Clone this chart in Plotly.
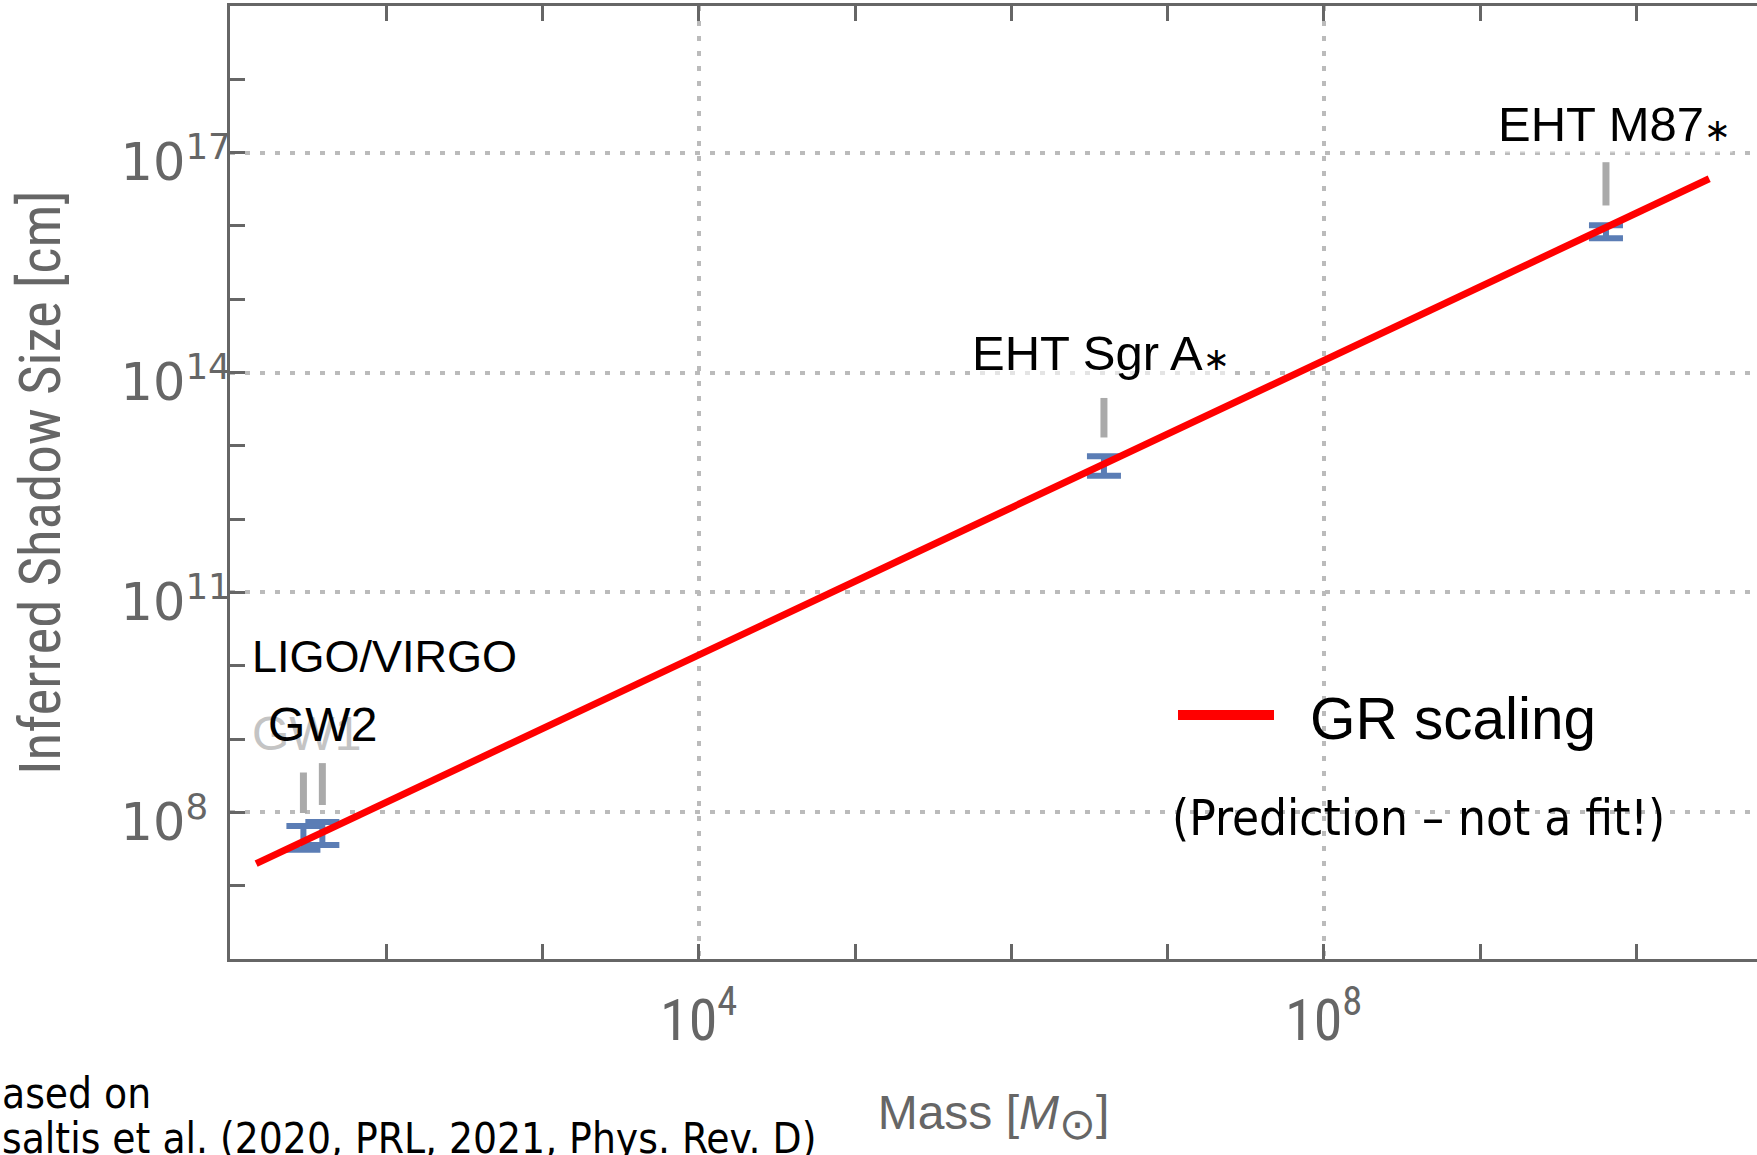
import plotly.graph_objects as go

# ---------------- data ----------------
src_names = ["GW1", "GW2", "EHT Sgr A∗", "EHT M87∗"]
src_mass = [29.5, 39.0, 3.92e6, 6.4e9]                 # solar masses
src_size = [4.5e7, 5.3e7, 5.3e12, 8.3e15]              # cm
src_err_plus = [2.0e7, 2.1e7, 1.9e12, 1.9e15]          # cm
src_err_minus = [1.4e7, 1.7e7, 1.4e12, 1.5e15]         # cm

# grey pointer bars above each measurement (bottom, top) in cm
ptr_bottom = [9.8e7, 1.26e8, 1.3e13, 1.9e16]
ptr_top = [3.5e8, 4.7e8, 4.5e13, 7.4e16]

# GR scaling prediction (end points of the line)
gr_mass = [14.7, 2.93e10]
gr_size = [2.0e7, 4.4e16]

x_tick_vals = [1e4, 1e8]
x_tick_text = ["10<sup>4</sup>", "10<sup>8</sup>"]
y_tick_vals = [1e8, 1e11, 1e14, 1e17]
y_tick_text = ["10<sup>8\u2007</sup>", "10<sup>11</sup>", "10<sup>14</sup>", "10<sup>17</sup>"]
x_minor = [10.0 ** k for k in range(1, 11)]
y_minor = [10.0 ** k for k in range(6, 20)]

# ---------------- layout geometry ----------------
W, H = 1757, 1155
L, R, T, B = 230, 0, 6, 196
PW, PH = W - L - R, H - T - B


def px(xp):
    return (xp - L) / PW


def py(yp):
    return (H - B - yp) / PH


AX = "#666666"
GRID = "#bbbbbb"
BLUE = "#5b7db5"
NARROW = "Liberation Sans Narrow, Arial Narrow, Roboto Condensed, sans-serif"
SANS = "Liberation Sans, Arial, sans-serif"
HUMAN = "DejaVu Sans Condensed, DejaVu Sans, sans-serif"
STAR = "<span style='font-size:32px'>∗</span>"

fig = go.Figure()

# grey pointer bars
gx, gy = [], []
for m, b0, t0 in zip(src_mass, ptr_bottom, ptr_top):
    gx += [m, m, None]
    gy += [b0, t0, None]
fig.add_trace(go.Scatter(x=gx, y=gy, mode="lines",
                         line=dict(color="#aaaaaa", width=7),
                         hoverinfo="skip", showlegend=False))

# measurements with error bars
fig.add_trace(go.Scatter(
    x=src_mass, y=src_size, mode="markers", name="measurements",
    text=src_names,
    marker=dict(size=1, color="rgba(0,0,0,0)"),
    error_y=dict(type="data", symmetric=False, array=src_err_plus,
                 arrayminus=src_err_minus, color=BLUE, thickness=6, width=17),
    showlegend=False))

# GR scaling line
fig.add_trace(go.Scatter(x=gr_mass, y=gr_size, mode="lines", name="GR scaling",
                         line=dict(color="#ff0000", width=7), showlegend=False))

axis_common = dict(
    type="log", showline=True, linewidth=3, linecolor=AX,
    ticks="inside", ticklen=15, tickwidth=3, tickcolor=AX,
    showgrid=True, gridcolor=GRID, gridwidth=4, griddash="5px,10px",
    zeroline=False, tickmode="array",
)

fig.update_layout(
    width=W, height=H,
    margin=dict(l=L, r=R, t=T, b=B),
    paper_bgcolor="white", plot_bgcolor="white",
    xaxis=dict(
        **axis_common,
        range=[1, 1 + PW / 156.25],
        tickvals=x_tick_vals, ticktext=x_tick_text,
        mirror="ticks",
        tickfont=dict(family=NARROW, size=58, color=AX),
        ticklabelstandoff=8,
        minor=dict(tickmode="array", tickvals=x_minor, ticks="inside",
                   ticklen=15, tickwidth=3, tickcolor=AX, showgrid=False),
        title=dict(text="Mass [<i>M</i><sub><span style='font-size:44px'>⊙</span></sub>]",
                   font=dict(family=SANS, size=48, color=AX), standoff=43),
    ),
    yaxis=dict(
        **axis_common,
        range=[6, 19],
        tickvals=y_tick_vals, ticktext=y_tick_text,
        mirror=False,
        tickfont=dict(family="DejaVu Sans, sans-serif", size=51, color=AX),
        ticklabelstandoff=-14,
        ticklabelshift=10,
        minor=dict(tickmode="array", tickvals=y_minor, ticks="inside",
                   ticklen=15, tickwidth=3, tickcolor=AX, showgrid=False),
        title=dict(text="Inferred Shadow Size [cm]",
                   font=dict(family=NARROW, size=57, color=AX), standoff=42),
    ),
)

# source labels
labels = [
    ("LIGO/VIRGO", 250, 656, 45, "black", None),
    ("GW1", 250, 734, 48, "#c4c4c4", None),
    ("GW2", 266, 724, 48, "black", None),
    ("EHT Sgr A" + STAR, 970, 353, 49, "black", "rgba(255,255,255,0.6)"),
    ("EHT M87" + STAR, 1496, 124, 49, "black", "rgba(255,255,255,0.6)"),
]
for txt, xx, yy, sz, col, bg in labels:
    fig.add_annotation(text=txt, xref="paper", yref="paper", x=px(xx), y=py(yy),
                       xanchor="left", yanchor="middle", showarrow=False,
                       font=dict(family=SANS, size=sz, color=col),
                       bgcolor=bg if bg else "rgba(0,0,0,0)")

# hand-made legend
fig.add_shape(type="line", xref="paper", yref="paper",
              x0=px(1178), x1=px(1274), y0=py(715), y1=py(715),
              line=dict(color="#ff0000", width=10))
fig.add_annotation(text="GR scaling", xref="paper", yref="paper",
                   x=px(1308), y=py(718), xanchor="left", yanchor="middle",
                   showarrow=False, font=dict(family=SANS, size=58.5, color="black"))
fig.add_annotation(text="(Prediction – not a fit!)", xref="paper", yref="paper",
                   x=px(1170), y=py(818), xanchor="left", yanchor="middle",
                   showarrow=False, font=dict(family=HUMAN, size=49, color="black"))

# source note (cropped at the left edge in the original)
fig.add_annotation(text="ased on", xref="paper", yref="paper",
                   x=px(0), y=py(1093), xanchor="left", yanchor="middle",
                   showarrow=False, font=dict(family=HUMAN, size=42, color="black"))
fig.add_annotation(text="saltis et al. (2020, PRL, 2021, Phys. Rev. D)",
                   xref="paper", yref="paper",
                   x=px(0), y=py(1138), xanchor="left", yanchor="middle",
                   showarrow=False, font=dict(family=HUMAN, size=42, color="black"))

fig.write_html("out.html", post_script="document.body.style.margin='0';",
               config={"displayModeBar": False})
